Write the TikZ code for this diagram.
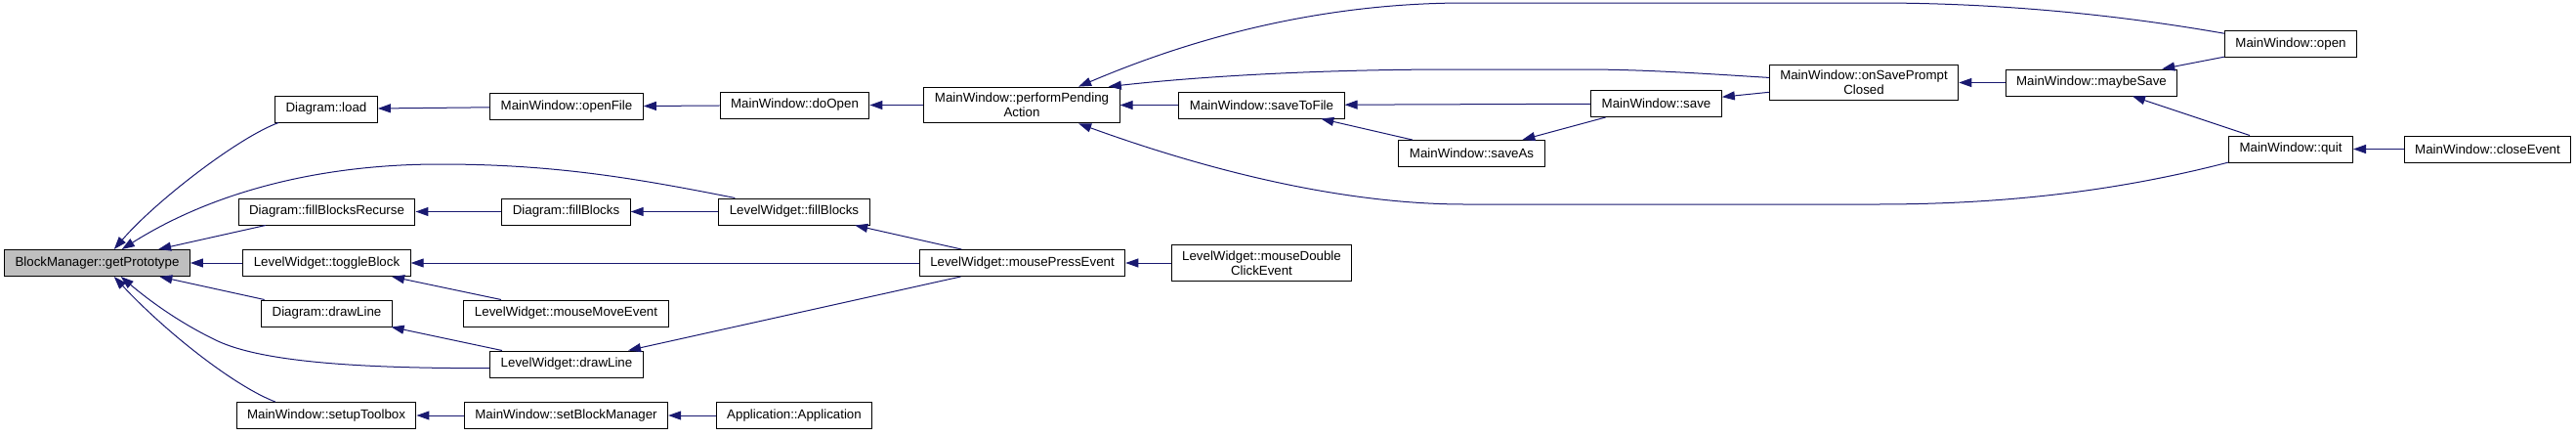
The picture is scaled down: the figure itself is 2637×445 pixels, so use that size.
\documentclass[tikz,border=0pt]{standalone}
\usepackage{fontspec}
\setsansfont{Liberation Sans}
\usepackage{tikz}
\usetikzlibrary{arrows.meta}
\definecolor{edge}{RGB}{25, 25, 112}
\definecolor{focus}{RGB}{191, 191, 191}

\begin{document}
\begin{tikzpicture}[
    x=1pt, y=-1pt,
    font=\sffamily\fontsize{13.3}{15}\selectfont,
    fn/.style={
        rectangle, draw=black, fill=white,
        line width=1pt, align=center,
        inner xsep=11pt, inner ysep=6pt,
        minimum height=27pt,
    },
    root/.style={fn, fill=focus},
    call/.style={{Triangle[length=13pt, width=9pt]}-, line width=1pt, draw=edge},
]
\useasboundingbox (0,0) rectangle (2637,445);

% =================================================
% Column 0 / 1
% =================================================
\node[root] (proto)      at (99.5,269)   {BlockManager::getPrototype};
\node[fn]   (load)       at (334,111.5)  {Diagram::load};
\node[fn]   (fillRec)    at (334.5,216.5){Diagram::fillBlocksRecurse};
\node[fn]   (toggle)     at (334.5,269)  {LevelWidget::toggleBlock};
\node[fn]   (dDraw)      at (334.5,320.5){Diagram::drawLine};
\node[fn]   (setupTb)    at (334,425)    {MainWindow::setupToolbox};

% =================================================
% Column 2 / 3
% =================================================
\node[fn] (openFile)   at (580,109)    {MainWindow::openFile};
\node[fn] (dFill)      at (579.5,216.5){Diagram::fillBlocks};
\node[fn] (mouseMove)  at (579.5,320.5){LevelWidget::mouseMoveEvent};
\node[fn] (lwDraw)     at (580,372.5)  {LevelWidget::drawLine};
\node[fn] (setBM)      at (579.5,425)  {MainWindow::setBlockManager};
\node[fn] (doOpen)     at (813.5,107.5){MainWindow::doOpen};
\node[fn] (lwFill)     at (813,216.5)  {LevelWidget::fillBlocks};
\node[fn] (app)        at (813,425)    {Application::Application};

% =================================================
% Column 4 / 5 / 6
% =================================================
\node[fn] (perform)    at (1046,107.5) {MainWindow::performPending\\Action};
\node[fn] (mousePress) at (1046.5,269) {LevelWidget::mousePressEvent};
\node[fn] (saveFile)   at (1291.5,107.5){MainWindow::saveToFile};
\node[fn] (dblClick)   at (1291.5,269) {LevelWidget::mouseDouble\\ClickEvent};
\node[fn] (saveAs)     at (1506.5,157) {MainWindow::saveAs};

% =================================================
% Right side
% =================================================
\node[fn] (save)       at (1695.5,106) {MainWindow::save};
\node[fn] (onSave)     at (1908,84.5)  {MainWindow::onSavePrompt\\Closed};
\node[fn] (maybeSave)  at (2141,84.5)  {MainWindow::maybeSave};
\node[fn] (open)       at (2345,45)    {MainWindow::open};
\node[fn] (quit)       at (2345,152.5) {MainWindow::quit};
\node[fn] (closeEv)    at (2546.5,152.5){MainWindow::closeEvent};

% =================================================
% Calls into getPrototype
% =================================================
\draw[call] (proto.39) .. controls (160,205) and (245,140) .. (load.196);
\draw[call] (proto.29) .. controls (220,195) and (330,168) .. (450,168)
                       .. controls (560,168) and (640,180) .. (lwFill.167);
\draw[call] (proto) -- (fillRec);
\draw[call] (proto) -- (toggle);
\draw[call] (proto) -- (dDraw);
\draw[call] (proto.-30) .. controls (150,305) and (180,328) .. (219,347)
                        .. controls (260,368) and (350,377) .. (lwDraw.183);
\draw[call] (proto.-39) .. controls (170,340) and (240,395) .. (setupTb.165);

% =================================================
% Remaining calls
% =================================================
\draw[call] (load)     -- (openFile);
\draw[call] (openFile) -- (doOpen);
\draw[call] (doOpen)   -- (perform);
\draw[call] (fillRec)  -- (dFill);
\draw[call] (dFill)    -- (lwFill);
\draw[call] (toggle)   -- (mousePress);
\draw[call] (toggle)   -- (mouseMove);
\draw[call] (dDraw)    -- (lwDraw);
\draw[call] (setupTb)  -- (setBM);
\draw[call] (setBM)    -- (app);
\draw[call] (lwFill)   -- (mousePress);
\draw[call] (lwDraw)   -- (mousePress);
\draw[call] (mousePress) -- (dblClick);

\draw[call] (perform.18) .. controls (1230,35) and (1360,3) .. (1500,3)
            -- (1920,3) .. controls (2030,3) and (2150,12) .. (open.171);
\draw[call] (perform.12) .. controls (1230,78) and (1350,71) .. (1490,71)
            -- (1620,71) .. controls (1680,71) and (1740,75) .. (onSave.177);
\draw[call] (perform)  -- (saveFile);
\draw[call] (perform.-18) .. controls (1230,172) and (1370,209) .. (1500,209)
            -- (1920,209) .. controls (2030,209) and (2150,200) .. (quit.192);

\draw[call] (saveFile)  -- (save);
\draw[call] (saveFile)  -- (saveAs);
\draw[call] (saveAs)    -- (save);
\draw[call] (save)      -- (onSave);
\draw[call] (onSave)    -- (maybeSave);
\draw[call] (maybeSave) -- (open);
\draw[call] (maybeSave) -- (quit);
\draw[call] (quit)      -- (closeEv);

\end{tikzpicture}
\end{document}
